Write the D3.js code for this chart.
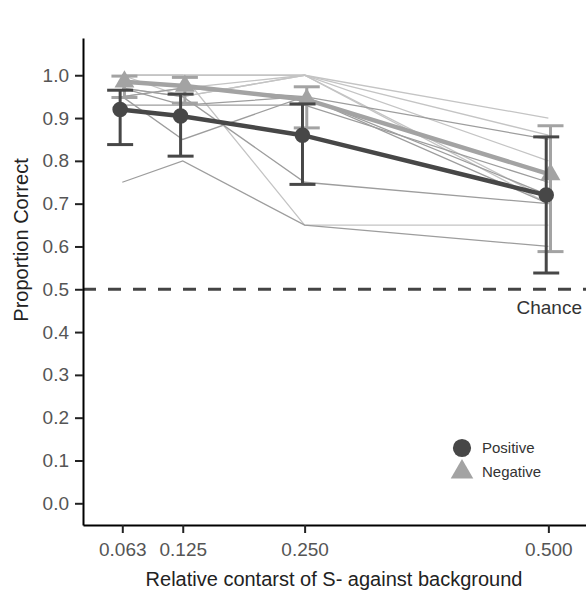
<!DOCTYPE html>
<html lang="en">
<head>
<meta charset="UTF-8">
<script src="https://d3js.org/d3.v7.min.js"></script>
<style>
body {margin: 0; background: white;}
svg {display: block; font-family: "Liberation Sans", Arial, sans-serif;}
</style>
</head>
<body>
<svg width="586" height="591"></svg>
<script>
// contrast levels and axis ticks
const contrasts = [0.063, 0.125, 0.25, 0.5];
const xTicks = [0.063, 0.125, 0.250, 0.500];
const yTicks = [0, 0.1, 0.2, 0.3, 0.4, 0.5, 0.6, 0.7, 0.8, 0.9, 1.0];

// group means with error bars
const posMean = [0.92, 0.905, 0.86, 0.72];
const posLow  = [0.838, 0.811, 0.745, 0.538];
const posHigh = [0.965, 0.956, 0.933, 0.856];
const negMean = [0.985, 0.975, 0.943, 0.768];
const negLow  = [0.948, 0.935, 0.877, 0.588];
const negHigh = [0.998, 0.995, 0.973, 0.882];

// individual subjects
const posSubjects = [
  [0.75, 0.80, 0.65, 0.60],
  [0.95, 0.85, 0.95, 0.70],
  [0.97, 0.95, 0.75, 0.70],
  [0.95, 0.97, 0.95, 0.72],
  [0.97, 0.93, 0.95, 0.85],
  [0.93, 0.93, 0.93, 0.75]
];
const negSubjects = [
  [1.00, 1.00, 0.65, 0.65],
  [1.00, 1.00, 1.00, 0.90],
  [0.97, 0.95, 1.00, 0.71],
  [1.00, 0.95, 1.00, 0.80],
  [0.95, 0.97, 1.00, 0.86],
  [1.00, 1.00, 1.00, 0.70]
];
const chance = 0.5;

const svg = d3.select("svg");
const xs = d3.scaleLinear().domain([0.0227, 0.5386]).range([83, 586]);
const ys = d3.scaleLinear().domain([-0.0507, 1.087]).range([525, 38]);
const dodge = 0.0022;

const darkCol = "#474747", lightCol = "#a3a3a3";

// subject lines
function subjLines(data, col) {
  svg.append("g").selectAll("path").data(data).enter().append("path")
    .attr("d", d => d3.line().x((v, i) => xs(contrasts[i])).y(v => ys(v))(d))
    .attr("fill", "none").attr("stroke", col).attr("stroke-width", 1.3);
}
subjLines(negSubjects, "#c4c4c4");
subjLines(posSubjects, "#9d9d9d");

// chance line
svg.append("line")
  .attr("x1", xs.range()[0]).attr("x2", xs.range()[1])
  .attr("y1", ys(chance)).attr("y2", ys(chance))
  .attr("stroke", "#444").attr("stroke-width", 3).attr("stroke-dasharray", "13,12");
svg.append("text").attr("x", 582).attr("y", ys(chance) + 25)
  .attr("text-anchor", "end").attr("font-size", 19).attr("fill", "#333").text("Chance");

function group(mean, low, high, off, col, shape) {
  const g = svg.append("g");
  const pts = contrasts.map((c, i) => ({x: c + off, m: mean[i], lo: low[i], hi: high[i]}));
  g.append("path")
    .attr("d", d3.line().x(d => xs(d.x)).y(d => ys(d.m))(pts))
    .attr("fill", "none").attr("stroke", col).attr("stroke-width", 4.5);
  const eb = g.selectAll(".eb").data(pts).enter().append("g");
  eb.append("line").attr("x1", d => xs(d.x)).attr("x2", d => xs(d.x))
    .attr("y1", d => ys(d.lo)).attr("y2", d => ys(d.hi))
    .attr("stroke", col).attr("stroke-width", 3);
  [d => d.lo, d => d.hi].forEach(f => {
    eb.append("line").attr("x1", d => xs(d.x) - 13).attr("x2", d => xs(d.x) + 13)
      .attr("y1", d => ys(f(d))).attr("y2", d => ys(f(d)))
      .attr("stroke", col).attr("stroke-width", 3);
  });
  g.selectAll(".pt").data(pts).enter().append("path")
    .attr("transform", d => "translate(" + xs(d.x) + "," + ys(d.m) + ")")
    .attr("d", d3.symbol().type(shape).size(shape === d3.symbolCircle ? 190 : 170))
    .attr("fill", col);
}
group(negMean, negLow, negHigh, dodge, lightCol, d3.symbolTriangle);
group(posMean, posLow, posHigh, -dodge, darkCol, d3.symbolCircle);

// axes
const yAxis = svg.append("g").attr("transform", "translate(83,0)")
  .call(d3.axisLeft(ys).tickValues(yTicks).tickFormat(d3.format(".1f")).tickSize(8).tickSizeOuter(0).tickPadding(6));
const xAxis = svg.append("g").attr("transform", "translate(0,525)")
  .call(d3.axisBottom(xs).tickValues(xTicks).tickFormat(d3.format(".3f")).tickSize(8).tickSizeOuter(0).tickPadding(10));
[yAxis, xAxis].forEach(a => {
  a.select(".domain").attr("stroke", "#000").attr("stroke-width", 2);
  a.selectAll(".tick line").attr("stroke", "#222").attr("stroke-width", 2);
  a.selectAll(".tick text").attr("font-size", 19).attr("fill", "#555").attr("font-family", "Liberation Sans, Arial, sans-serif");
});

// titles
svg.append("text").attr("x", 334).attr("y", 586).attr("text-anchor", "middle")
  .attr("font-size", 20).attr("fill", "#222").text("Relative contarst of S- against background");
svg.append("text").attr("transform", "translate(28,240) rotate(-90)").attr("text-anchor", "middle")
  .attr("font-size", 20).attr("fill", "#222").text("Proportion Correct");

// legend
const legend = [{label: "Positive", col: darkCol, shape: d3.symbolCircle, y: 448},
                {label: "Negative", col: lightCol, shape: d3.symbolTriangle, y: 472}];
const lg = svg.append("g").selectAll("g").data(legend).enter().append("g")
  .attr("transform", d => "translate(462," + d.y + ")");
lg.append("path").attr("d", d => d3.symbol().type(d.shape).size(d.shape === d3.symbolCircle ? 260 : 220)())
  .attr("fill", d => d.col);
lg.append("text").attr("x", 20).attr("y", 5).attr("font-size", 15).attr("fill", "#333").text(d => d.label);
</script>
</body>
</html>
